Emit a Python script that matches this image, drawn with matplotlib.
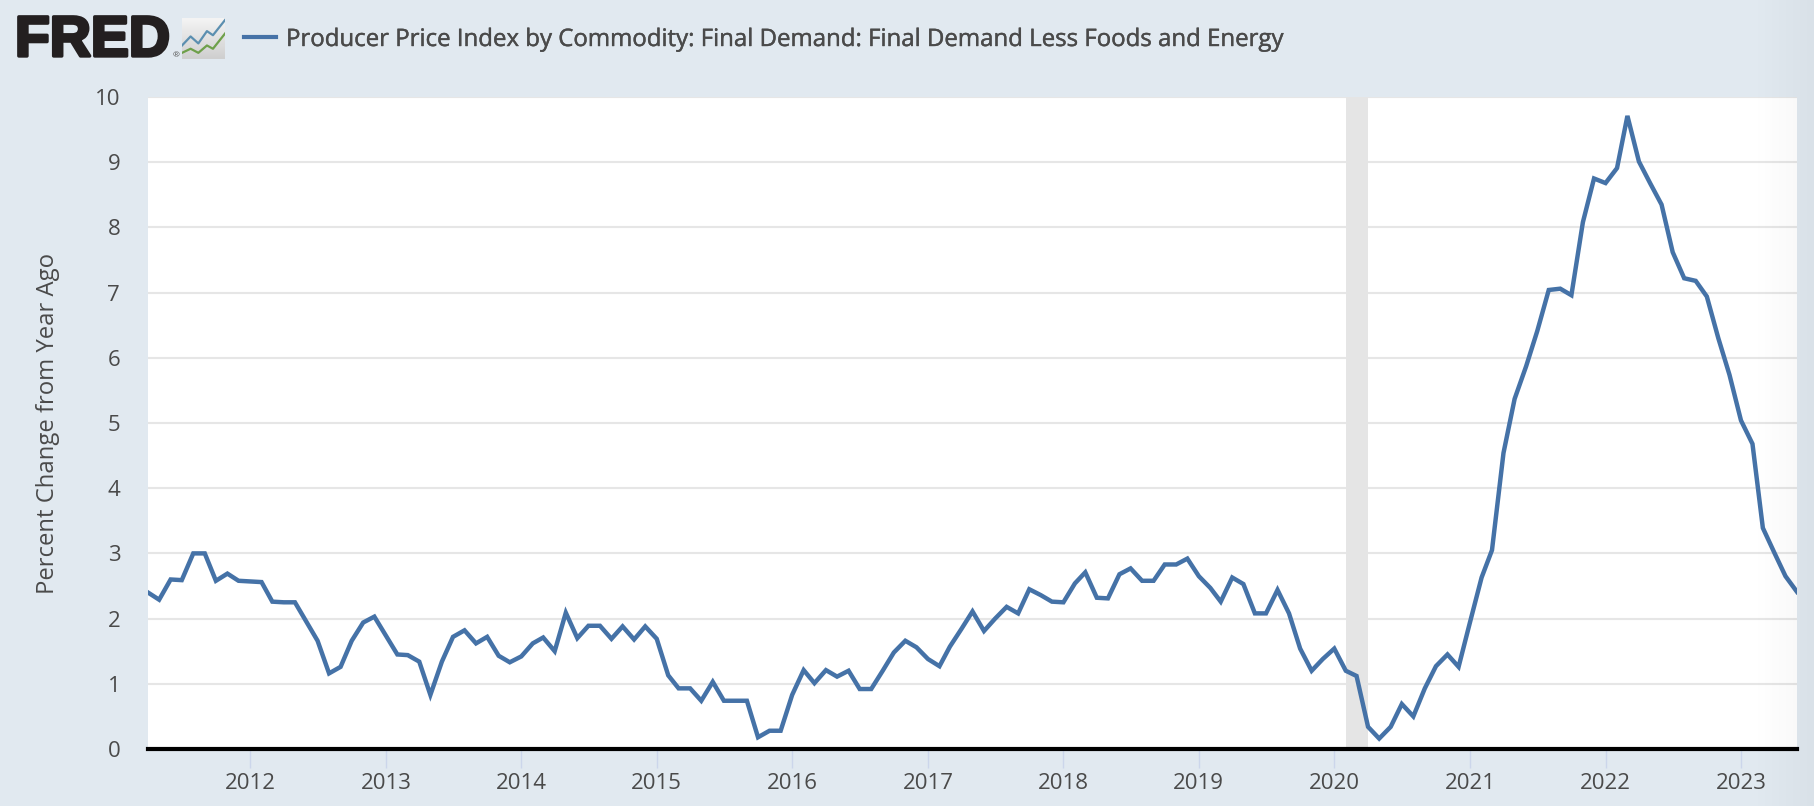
import numpy as np
import pandas as pd
import matplotlib
matplotlib.use("Agg")
import matplotlib.pyplot as plt
import matplotlib.dates as mdates
import matplotlib.patheffects as pe
from matplotlib.colors import LinearSegmentedColormap

plt.rcParams['font.family'] = ['Open Sans', 'DejaVu Sans']

# monthly percent change from year ago, Apr 2011 - Jun 2023
values = [
    2.40, 2.29, 2.60, 2.59, 3.00, 3.00, 2.58, 2.69, 2.58,
    2.57, 2.56, 2.26, 2.25, 2.25, 1.95, 1.66, 1.16, 1.26, 1.66, 1.94, 2.03,
    1.74, 1.45, 1.44, 1.34, 0.83, 1.34, 1.72, 1.82, 1.62, 1.72, 1.43, 1.33,
    1.42, 1.62, 1.71, 1.50, 2.09, 1.70, 1.89, 1.89, 1.69, 1.88, 1.68, 1.88,
    1.69, 1.13, 0.93, 0.93, 0.74, 1.03, 0.74, 0.74, 0.74, 0.18, 0.28, 0.28,
    0.83, 1.21, 1.01, 1.21, 1.11, 1.20, 0.92, 0.92, 1.20, 1.48, 1.66, 1.56,
    1.38, 1.27, 1.57, 1.84, 2.11, 1.81, 2.00, 2.18, 2.08, 2.45, 2.36, 2.26,
    2.25, 2.54, 2.71, 2.32, 2.31, 2.68, 2.77, 2.58, 2.58, 2.83, 2.83, 2.92,
    2.65, 2.47, 2.26, 2.63, 2.53, 2.08, 2.08, 2.44, 2.08, 1.54, 1.20, 1.38,
    1.54, 1.20, 1.12, 0.34, 0.16, 0.34, 0.69, 0.50, 0.93, 1.27, 1.45, 1.26,
    1.95, 2.63, 3.05, 4.54, 5.37, 5.87, 6.41, 7.04, 7.06, 6.96, 8.08, 8.75,
    8.68, 8.91, 9.71, 9.01, 8.68, 8.35, 7.62, 7.22, 7.18, 6.94, 6.30, 5.74,
    5.04, 4.68, 3.39, 3.01, 2.65, 2.41,
]
dates = pd.date_range("2011-04-01", periods=len(values), freq="MS")
title = "Producer Price Index by Commodity: Final Demand: Final Demand Less Foods and Energy"
ylabel = "Percent Change from Year Ago"
years = list(range(2012, 2024))
recession = ("2020-02-01", "2020-04-01")

W, H = 1814, 806
bg = "#e1e9f0"
blue = "#4572a7"
dark = "#4a4a4a"

fig = plt.figure(figsize=(W / 100, H / 100), dpi=100, facecolor=bg)
ax = fig.add_axes([148 / W, 1 - 749 / H, (1797 - 148) / W, (749 - 97) / H])

ax.axvspan(pd.Timestamp(recession[0]), pd.Timestamp(recession[1]), color="#e5e5e5", lw=0, zorder=1)
ax.plot(dates, values, color=blue, lw=3.2, solid_joinstyle="miter", zorder=3, clip_on=True)

ax.set_xlim(dates[0], dates[-1])
ax.set_ylim(0, 10)
ax.set_yticks(range(0, 11))
ax.set_xticks([pd.Timestamp(f"{y}-01-01") for y in years])
ax.xaxis.set_major_formatter(mdates.DateFormatter("%Y"))
ax.grid(axis="y", color="#e6e6e6", lw=1.5, zorder=0)
ax.set_axisbelow(True)
for s in ["top", "right", "left"]:
    ax.spines[s].set_visible(False)
ax.spines["bottom"].set_color("black")
ax.spines["bottom"].set_linewidth(3)
ax.spines["bottom"].set_zorder(5)
ax.tick_params(axis="y", length=0, pad=20, labelsize=16, labelcolor=dark)
ax.tick_params(axis="x", length=14, width=1, color="#ccd6eb", pad=3, labelsize=16, labelcolor=dark)
ax.set_ylabel(ylabel, fontsize=17.2, color=dark)
ax.yaxis.set_label_coords((60 - 148) / (1797 - 148), 0.5)

# header
fig.text(15 / W, 1 - 41 / H, "FRED", fontsize=41, fontweight="bold", color="#231f20",
         va="center", ha="left", family="Liberation Sans",
         path_effects=[pe.withStroke(linewidth=2.4, foreground="#231f20")])
fig.text(176 / W, 1 - 56 / H, "®", fontsize=6, color="#555555", va="center", ha="center")

icon = fig.add_axes([182 / W, 1 - 59 / H, 43 / W, 41 / H])
icon.imshow(np.linspace(0, 1, 50).reshape(-1, 1),
            cmap=LinearSegmentedColormap.from_list("g", ["#f4f4f4", "#cfcfcf"]),
            aspect="auto", extent=[0, 1, 0, 1])
icon_x = [0, 0.2, 0.38, 0.58, 0.72, 1.0]
icon_top = [0.33, 0.55, 0.38, 0.68, 0.58, 0.95]
icon_low = [0.15, 0.25, 0.15, 0.33, 0.25, 0.62]
icon.plot(icon_x, icon_top, color="#5b8fb0", lw=1.6)
icon.plot(icon_x, icon_low, color="#6ea04a", lw=1.6)
icon.set_xlim(0, 1)
icon.set_ylim(0, 1)
icon.axis("off")

fig.add_artist(plt.Line2D([244 / W, 276 / W], [1 - 37 / H, 1 - 37 / H], color=blue, lw=3.0))
fig.text(286 / W, 1 - 40 / H, title, fontsize=17.3, color=dark, va="center", ha="left",
         path_effects=[pe.withStroke(linewidth=0.3, foreground=dark)])

# faint shading that darkens towards the right edge of the screenshot
shade = fig.add_axes([1750 / W, 0, 64 / W, 1], zorder=10)
shade.patch.set_alpha(0)
shade.imshow(np.linspace(0, 0.035, 64).reshape(1, -1),
             cmap=LinearSegmentedColormap.from_list("s", ["#000000", "#000000"]),
             alpha=np.linspace(0, 0.035, 64).reshape(1, -1), aspect="auto")
shade.axis("off")

fig.savefig("out.png", dpi=100, facecolor=bg)
